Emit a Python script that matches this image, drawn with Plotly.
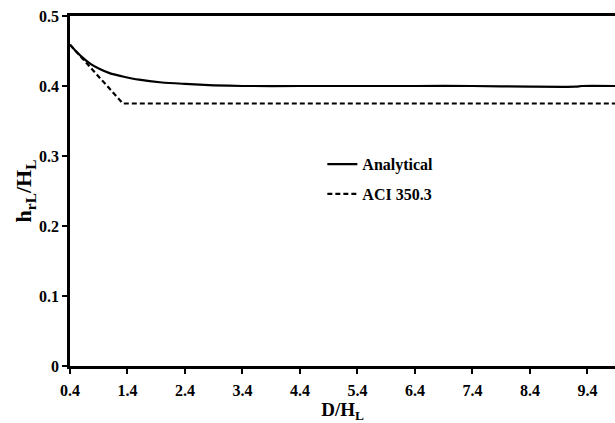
import plotly.graph_objects as go

# Data
x_analytical = [0.4, 0.5, 0.6, 0.75, 0.9, 1.1, 1.3, 1.6, 2.0, 2.4, 2.9, 3.4, 4.4, 5.4, 6.4, 7.4, 8.4, 9.2, 9.3, 9.9]
y_analytical = [0.459, 0.450, 0.442, 0.432, 0.425, 0.418, 0.414, 0.409, 0.405, 0.403, 0.401, 0.400, 0.400, 0.400, 0.400, 0.400, 0.399, 0.399, 0.400, 0.400]

x_aci = [0.4, 1.32, 9.9]
y_aci = [0.459, 0.375, 0.375]

x_ticks = [0.4, 1.4, 2.4, 3.4, 4.4, 5.4, 6.4, 7.4, 8.4, 9.4]
x_tick_labels = ["0.4", "1.4", "2.4", "3.4", "4.4", "5.4", "6.4", "7.4", "8.4", "9.4"]
y_ticks = [0, 0.1, 0.2, 0.3, 0.4, 0.5]
y_tick_labels = ["0", "0.1", "0.2", "0.3", "0.4", "0.5"]

FONT = "Times New Roman, Liberation Serif, serif"

fig = go.Figure()
fig.add_trace(go.Scatter(x=x_analytical, y=y_analytical, mode="lines", name="<b>Analytical</b>",
                         legendgroup="a",
                         line=dict(color="black", width=2.2, shape="spline", smoothing=0.6)))
fig.add_trace(go.Scatter(x=x_aci, y=y_aci, mode="lines", name="<b>ACI 350.3</b>",
                         legendgroup="b",
                         line=dict(color="black", width=2.2, dash="5px,3px")))

fig.update_layout(
    width=615, height=423,
    margin=dict(l=70, r=0, t=16, b=57),
    plot_bgcolor="white", paper_bgcolor="white",
    font=dict(family=FONT, color="black", size=15),
    showlegend=True,
    legend=dict(x=0.463, y=0.625, xanchor="left", yanchor="top",
                bgcolor="rgba(0,0,0,0)", font=dict(family=FONT, size=16, color="black"),
                tracegroupgap=6, itemwidth=30),
    xaxis=dict(range=[0.4, 9.88], tickvals=x_ticks, ticktext=["<b>%s</b>" % t for t in x_tick_labels],
               showgrid=False, zeroline=False, showline=True, linecolor="black", linewidth=2.5,
               mirror=True, ticks="outside", ticklen=5, tickwidth=2, tickcolor="black",
               ticklabelstandoff=3,
               tickfont=dict(family=FONT, size=16, color="black"),
               title=dict(text="<b>D/H<sub>L</sub></b>", font=dict(family=FONT, size=19, color="black"), standoff=2)),
    yaxis=dict(range=[0, 0.5], tickvals=y_ticks, ticktext=["<b>%s</b>" % t for t in y_tick_labels],
               showgrid=False, zeroline=False, showline=True, linecolor="black", linewidth=2.5,
               ticks="outside", ticklen=5, tickwidth=2, tickcolor="black",
               tickfont=dict(family=FONT, size=16, color="black"),
               title=dict(text="<b>h<sub>rL</sub>/H<sub>L</sub></b>", font=dict(family=FONT, size=22, color="black"), standoff=0)),
)

fig.write_html("out.html")
